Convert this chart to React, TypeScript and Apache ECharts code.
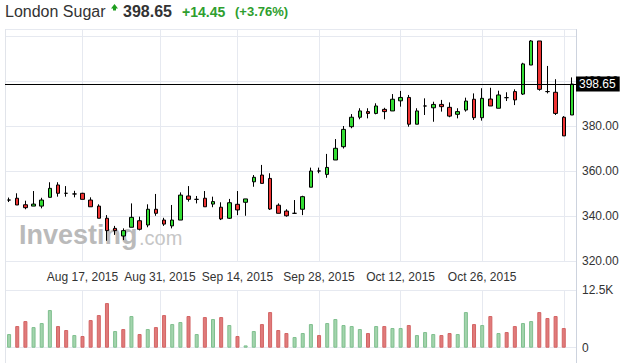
import React, { useEffect, useRef } from 'react';
import * as echarts from 'echarts';

// Trading days (London, Aug 31 2015 bank holiday absent)
const dates = [
  '2015-08-04', '2015-08-05', '2015-08-06', '2015-08-07',
  '2015-08-10', '2015-08-11', '2015-08-12', '2015-08-13', '2015-08-14',
  '2015-08-17', '2015-08-18', '2015-08-19', '2015-08-20', '2015-08-21',
  '2015-08-24', '2015-08-25', '2015-08-26', '2015-08-27', '2015-08-28',
  '2015-09-01', '2015-09-02', '2015-09-03', '2015-09-04',
  '2015-09-07', '2015-09-08', '2015-09-09', '2015-09-10', '2015-09-11',
  '2015-09-14', '2015-09-15', '2015-09-16', '2015-09-17', '2015-09-18',
  '2015-09-21', '2015-09-22', '2015-09-23', '2015-09-24', '2015-09-25',
  '2015-09-28', '2015-09-29', '2015-09-30', '2015-10-01', '2015-10-02',
  '2015-10-05', '2015-10-06', '2015-10-07', '2015-10-08', '2015-10-09',
  '2015-10-12', '2015-10-13', '2015-10-14', '2015-10-15', '2015-10-16',
  '2015-10-19', '2015-10-20', '2015-10-21', '2015-10-22', '2015-10-23',
  '2015-10-26', '2015-10-27', '2015-10-28', '2015-10-29', '2015-10-30',
  '2015-11-02', '2015-11-03', '2015-11-04', '2015-11-05', '2015-11-06',
  '2015-11-09', '2015-11-10',
];

const opens = [
  347.1, 347.9, 345.0, 344.4, 344.4, 348.3, 353.8, 350.1, 349.8, 350.1,
  347.1, 344.4, 339.0, 334.5, 331.1, 335.0, 337.9, 336.0, 343.0, 338.2,
  335.6, 338.2, 348.9, 347.4, 347.9, 345.3, 343.9, 339.0, 345.2, 346.1,
  355.2, 358.2, 356.7, 344.8, 342.2, 341.2, 343.0, 352.8, 360.0, 358.5,
  364.9, 370.8, 379.7, 383.9, 386.4, 385.6, 387.4, 386.7, 391.2, 392.7,
  380.8, 388.9, 388.1, 389.6, 388.3, 385.2, 387.1, 391.9, 383.7, 392.0,
  387.9, 392.6, 395.3, 394.2, 407.1, 417.8, 395.3, 395.0, 383.9, 384.9,
];
const closes = [
  347.1, 344.9, 343.7, 345.3, 347.1, 352.3, 350.1, 350.1, 349.8, 347.4,
  344.1, 339.0, 333.5, 333.5, 333.5, 339.4, 334.1, 343.0, 341.2, 336.4,
  338.2, 349.3, 347.4, 347.4, 344.1, 346.4, 338.7, 345.9, 342.7, 347.6,
  357.2, 354.5, 343.1, 341.2, 340.1, 341.2, 348.6, 360.0, 360.0, 361.6,
  370.1, 378.5, 383.9, 386.7, 385.6, 388.9, 386.4, 391.9, 392.7, 380.8,
  386.7, 388.9, 389.6, 388.6, 384.4, 386.4, 391.1, 383.7, 392.3, 388.9,
  393.8, 392.6, 391.6, 407.6, 417.8, 396.3, 395.3, 385.6, 375.6, 398.65,
];
const lows = [
  346.2, 344.9, 343.0, 344.4, 343.4, 348.3, 348.6, 348.6, 348.3, 347.4,
  344.1, 339.0, 329.0, 331.6, 329.3, 335.0, 333.6, 335.0, 340.1, 335.6,
  334.5, 338.2, 346.4, 345.6, 344.1, 343.9, 338.2, 338.7, 340.4, 340.1,
  353.0, 354.5, 342.7, 341.2, 339.7, 340.9, 340.4, 352.8, 359.0, 357.0,
  364.9, 370.0, 379.0, 383.0, 383.4, 385.2, 383.0, 386.7, 388.6, 379.7,
  380.8, 384.9, 381.9, 386.4, 383.9, 383.4, 386.4, 382.7, 382.4, 388.9,
  387.9, 391.1, 389.3, 393.8, 407.1, 395.7, 394.5, 384.9, 375.6, 384.9,
];
const highs = [
  348.2, 350.1, 346.8, 351.1, 348.1, 355.0, 355.0, 353.3, 351.2, 350.3,
  348.3, 345.2, 340.4, 335.6, 334.5, 345.6, 339.7, 345.2, 349.8, 339.2,
  344.9, 350.5, 353.3, 348.9, 351.1, 348.6, 346.1, 347.6, 351.1, 347.6,
  358.2, 362.7, 359.0, 345.6, 343.0, 347.1, 349.0, 361.5, 361.5, 367.6,
  374.2, 380.0, 385.3, 387.9, 387.9, 390.1, 388.1, 394.2, 395.6, 393.8,
  387.9, 392.3, 390.8, 391.6, 390.5, 387.9, 392.6, 394.5, 396.8, 397.0,
  395.7, 395.0, 396.3, 408.1, 418.2, 417.8, 406.7, 400.8, 384.4, 401.6,
];

const volumes: (number | null)[] = [
  2960, 4690, 5770, 4470, 5340, 8160, 4690, 3830, 2740, 2530,
  5990, 7070, 9670, 3610, 4040, 6860, 2960, 4040, 4470, 7070,
  5120, 5560, 6860, 2960, 6640, 6210, 6640, 4910, 2530, 500,
  3610, 5120, 7720, 3830, 3180, 2310, 3180, 5120, 2740, 5340,
  6210, 4910, 4690, 4040, 3180, 4690, 4690, 4260, 4260, 4910,
  2740, 3390, 2960, 2740, 3180, 2960, 7720, 5120, 4910, 6860,
  3180, 3390, 4690, 5340, 5770, 7720, 6430, 6860, 4260, null,
];
const volumeUp = [
  1, 0, 0, 1, 1, 1, 0, 0, 1, 0,
  0, 0, 0, 1, 0, 1, 0, 1, 0, 0,
  1, 1, 0, 1, 0, 1, 0, 1, 0, 1,
  1, 0, 0, 0, 0, 1, 1, 1, 0, 1,
  1, 1, 1, 1, 0, 1, 0, 1, 1, 0,
  1, 1, 1, 0, 0, 1, 1, 0, 1, 0,
  1, 0, 0, 1, 1, 0, 0, 0, 0, 1,
];

const tickDates = ['2015-08-17', '2015-08-31', '2015-09-14', '2015-09-28', '2015-10-12', '2015-10-26', '2015-11-09'];
const tickLabels = ['Aug 17, 2015', 'Aug 31, 2015', 'Sep 14, 2015', 'Sep 28, 2015', 'Oct 12, 2015', 'Oct 26, 2015', ''];

const priceMin = 320;
const priceMax = 422.9;
const priceInterval = 20;
const volumeMax = 12500;

const instrument = 'London Sugar';
const lastPrice = 398.65;
const change = 14.45;
const changePct = 3.76;

const FONT = 'Arial, "Liberation Sans", Helvetica, sans-serif';
const GRID_COLOR = '#e6e9f0';

function tickPosition(d: string): number {
  const i = dates.indexOf(d);
  if (i >= 0) return i;
  const j = dates.findIndex((x) => x > d);
  return j < 0 ? dates.length - 1 : j - 0.5;
}

export default function App() {
  const ref = useRef<HTMLDivElement>(null);
  useEffect(() => {
    if (!ref.current) return;
    const chart = echarts.init(ref.current, undefined, { renderer: 'svg' });
    const tickPos = tickDates.map(tickPosition);
    const labelPos = tickPos.filter((_, k) => tickLabels[k] !== '');
    const candleData = dates.map((_, i) => [opens[i], closes[i], lows[i], highs[i]]);
    const upStyle = { color: '#a3d4ad', borderColor: '#7fbf8e', borderWidth: 1 };
    const downStyle = { color: '#e07b7b', borderColor: '#d36464', borderWidth: 1 };
    const volData = volumes.map((v, i) =>
      v == null ? '-' : { value: v, itemStyle: volumeUp[i] ? upStyle : downStyle }
    );
    const xMin = -0.5;
    const xMax = dates.length - 0.5;
    const gridBox = { left: 5, right: 52 };

    chart.setOption({
      animation: false,
      textStyle: { fontFamily: FONT },
      grid: [
        { ...gridBox, top: 29.5, height: 231.5 },
        { ...gridBox, top: 290, bottom: 15.3 },
        { ...gridBox, top: 29.5, bottom: 0 },
      ],
      xAxis: [
        { type: 'category', gridIndex: 0, data: dates, show: false, boundaryGap: true },
        {
          type: 'value', gridIndex: 0, min: xMin, max: xMax, position: 'bottom',
          axisLine: { show: false },
          axisTick: { show: false, customValues: tickPos },
          splitLine: { show: true, lineStyle: { color: GRID_COLOR, width: 1 } },
          axisLabel: {
            customValues: labelPos, margin: 10, color: '#333', fontSize: 12, fontFamily: FONT,
            formatter: (v: number) => {
              const k = tickPos.indexOf(v);
              return k >= 0 ? tickLabels[k] : '';
            },
          },
        },
        { type: 'category', gridIndex: 1, data: dates, show: false, boundaryGap: true },
        {
          type: 'value', gridIndex: 1, min: xMin, max: xMax,
          axisLine: { show: false },
          axisTick: { show: false, customValues: tickPos },
          axisLabel: { show: false },
          splitLine: { show: true, lineStyle: { color: GRID_COLOR, width: 1 } },
        },
        { type: 'value', gridIndex: 2, min: 0, max: 1, show: false },
      ],
      yAxis: [
        {
          type: 'value', gridIndex: 0, position: 'right', min: priceMin, max: priceMax, interval: priceInterval,
          axisLine: { show: false }, axisTick: { show: false },
          splitLine: { show: true, lineStyle: { color: GRID_COLOR, width: 1 } },
          axisLabel: {
            margin: 6, color: '#333', fontSize: 12, fontFamily: FONT,
            formatter: (v: number) => (v > 410 ? '' : v.toFixed(2)),
          },
        },
        {
          type: 'value', gridIndex: 1, position: 'right', min: 0, max: volumeMax, interval: volumeMax,
          axisLine: { show: false }, axisTick: { show: false },
          splitLine: { show: true, lineStyle: { color: GRID_COLOR, width: 1 } },
          axisLabel: {
            margin: 6, color: '#333', fontSize: 12, fontFamily: FONT,
            formatter: (v: number) => (v === 0 ? '0' : (v / 1000).toFixed(1) + 'K'),
          },
        },
        {
          type: 'value', gridIndex: 2, position: 'left', min: 0, max: 1,
          axisLine: { show: true, lineStyle: { color: '#e1e4ea', width: 1 } },
          axisTick: { show: false }, axisLabel: { show: false }, splitLine: { show: false },
        },
        {
          type: 'value', gridIndex: 2, position: 'right', min: 0, max: 1,
          axisLine: { show: true, lineStyle: { color: '#cdd3de', width: 1 } },
          axisTick: { show: false }, axisLabel: { show: false }, splitLine: { show: false },
        },
      ],
      graphic: [
        {
          type: 'text', left: 5, top: 3, z: 10,
          style: { text: instrument, font: `16px ${FONT}`, fill: '#333' },
        },
        {
          type: 'polygon', z: 10,
          shape: { points: [[111, 8.5], [114.5, 4], [118, 8.5], [116, 8.5], [116, 10.5], [113, 10.5], [113, 8.5]] },
          style: { fill: '#1e9e1e' },
        },
        {
          type: 'text', left: 123, top: 3, z: 10,
          style: { text: lastPrice.toFixed(2), font: `bold 16px ${FONT}`, fill: '#333' },
        },
        {
          type: 'text', left: 182, top: 4.5, z: 10,
          style: { text: '+' + change.toFixed(2), font: `bold 14px ${FONT}`, fill: '#2e9e2e' },
        },
        {
          type: 'text', left: 235, top: 4.5, z: 10,
          style: { text: '(+' + changePct.toFixed(2) + '%)', font: `bold 13px ${FONT}`, fill: '#2e9e2e' },
        },
        {
          type: 'text', left: 19, top: 221, z: 1,
          style: { text: 'Investing', font: `bold 27px ${FONT}`, fill: '#bababa' },
        },
        {
          type: 'text', left: 139, top: 228, z: 1,
          style: { text: '.com', font: `20px ${FONT}`, fill: '#c6c6c6' },
        },
      ],
      series: [
        {
          type: 'candlestick', xAxisIndex: 0, yAxisIndex: 0, data: candleData, barWidth: 4, z: 3,
          itemStyle: {
            color: '#33dd33', color0: '#ee3333', borderColor: '#000', borderColor0: '#000', borderWidth: 1,
          },
          markLine: {
            silent: true, symbol: ['none', 'none'], animation: false,
            lineStyle: { color: '#000', width: 1, type: 'solid' },
            label: {
              show: true, position: 'end', distance: 0, formatter: lastPrice.toFixed(2),
              backgroundColor: '#000', color: '#fff', fontSize: 12, fontFamily: FONT, padding: [2, 4, 1, 3],
            },
            data: [{ yAxis: lastPrice }],
          },
        },
        {
          type: 'bar', xAxisIndex: 2, yAxisIndex: 1, data: volData, barWidth: 4, z: 3,
        },
      ],
    });
    return () => chart.dispose();
  }, []);
  return (
    <div
      ref={ref}
      style={{ position: 'fixed', left: 0, top: 0, width: 628, height: 363, background: '#fff' }}
    />
  );
}
